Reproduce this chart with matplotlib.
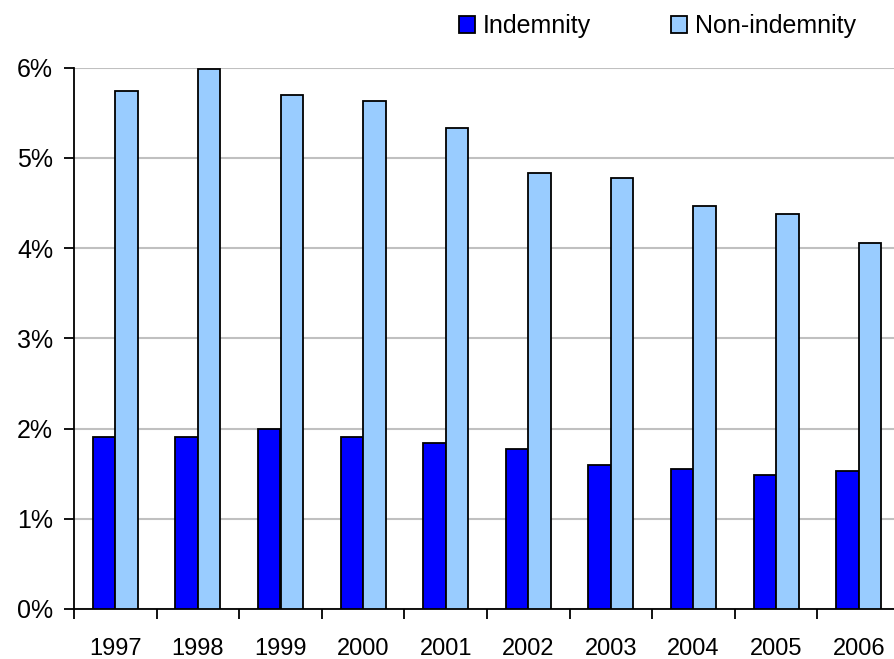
import matplotlib
matplotlib.use("Agg")
import matplotlib.pyplot as plt
import numpy as np

years = ["1997", "1998", "1999", "2000", "2001", "2002", "2003", "2004", "2005", "2006"]
indemnity = [1.91, 1.91, 2.00, 1.91, 1.84, 1.77, 1.60, 1.55, 1.48, 1.53]
non_indemnity = [5.74, 5.98, 5.70, 5.63, 5.33, 4.83, 4.78, 4.47, 4.38, 4.05]
y_ticks = [0, 1, 2, 3, 4, 5, 6]
y_tick_labels = ["0%", "1%", "2%", "3%", "4%", "5%", "6%"]
series_names = ["Indemnity", "Non-indemnity"]

plt.rcParams['font.family'] = ['Liberation Sans', 'DejaVu Sans']

W, H = 894, 659
fig = plt.figure(figsize=(W / 100, H / 100), dpi=100)
left, right, bottom, top = 74, 900, 609, 67.5
ax = fig.add_axes([left / W, 1 - bottom / H, (right - left) / W, (bottom - top) / H])

x = np.arange(len(years))
w = 0.272
b1 = ax.bar(x - w / 2, indemnity, w, color="#0000FF", edgecolor="black", linewidth=1.3,
            label=series_names[0], zorder=3)
b2 = ax.bar(x + w / 2, non_indemnity, w, color="#99CCFF", edgecolor="black", linewidth=1.3,
            label=series_names[1], zorder=3)

ax.set_xlim(-0.5, len(years) - 0.5)
ax.set_ylim(0, 6)
ax.set_yticks(y_ticks)
ax.set_yticklabels(y_tick_labels, fontsize=18)
ax.yaxis.grid(True, color="#c0c0c0", linewidth=1.5, zorder=0)
ax.set_axisbelow(True)

ax.set_xticks(np.arange(-0.5, len(years), 1))
ax.set_xticklabels([])
ax.set_xticks(x, minor=True)
ax.set_xticklabels(years, minor=True, fontsize=17)
ax.tick_params(axis="x", which="major", length=7, width=1.3, direction="out")
ax.tick_params(axis="x", which="minor", length=0, pad=21)
ax.tick_params(axis="y", length=7, width=1.3, direction="out", pad=8)

for s in ["top", "right"]:
    ax.spines[s].set_visible(False)
for s in ["left", "bottom"]:
    ax.spines[s].set_linewidth(1.3)
    ax.spines[s].set_color("black")

fig.legend(handles=[b1, b2], labels=series_names, loc="upper left",
           bbox_to_anchor=(449 / W, 1 - 4 / H), ncol=2, frameon=False,
           fontsize=18, handlelength=0.65, handleheight=0.65, handletextpad=0.3,
           columnspacing=3.2, borderaxespad=0)

fig.savefig("out.png", dpi=100)
